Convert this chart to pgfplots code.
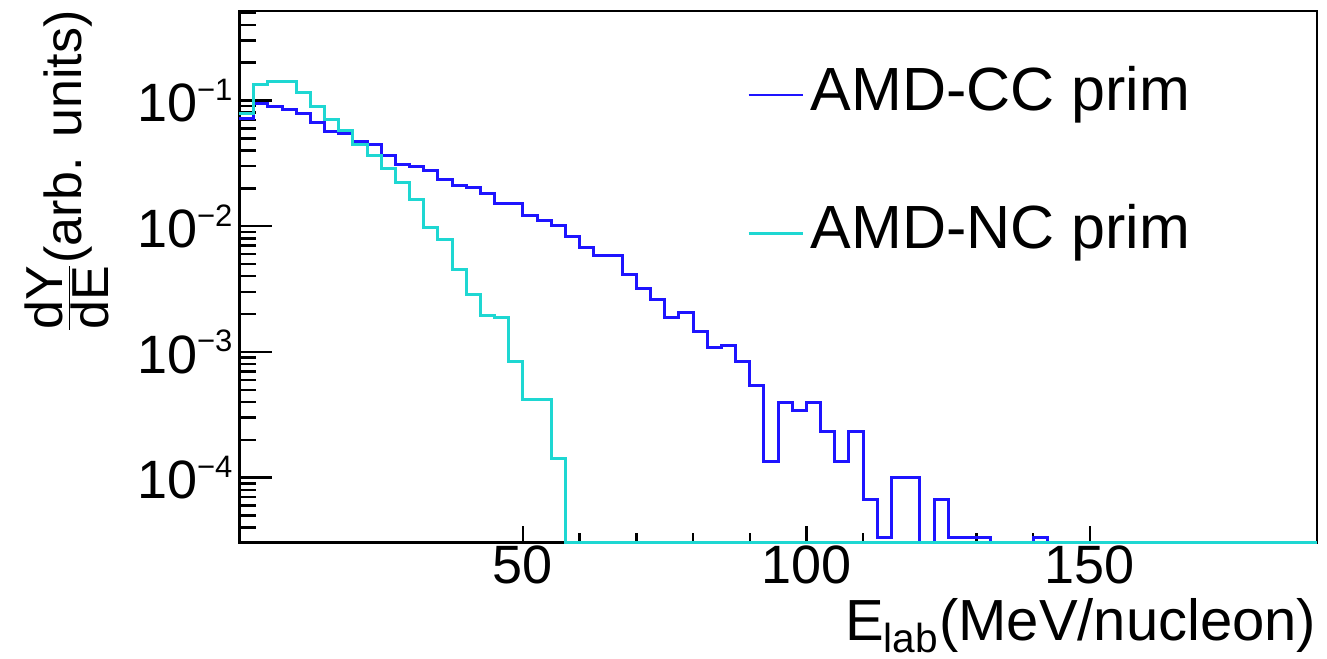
\documentclass[border=0pt]{standalone}
\usepackage{fontspec}
\setmainfont{Liberation Sans}
\usepackage{pgfplots}
\usepackage{pgfplotstable}
\pgfplotsset{compat=1.18}
\definecolor{ccblue}{RGB}{30,20,255}
\definecolor{nccyan}{RGB}{30,215,210}
\newcommand{\pw}[1]{10\raisebox{10.6pt}{\fontsize{15.5pt}{15.5pt}\selectfont −#1}}

% AMD-CC prim (left bin edges, value); bins of empty content set to ymin
\pgfplotstableread{
x y
0 0.0722
2.5 0.0950
5 0.0904
7.5 0.0851
10 0.0781
12.5 0.0671
15 0.0572
17.5 0.0548
20 0.0476
22.5 0.0448
25 0.0364
27.5 0.03125
30 0.0301
32.5 0.0275
35 0.0236
37.5 0.0211
40 0.0203
42.5 0.0183
45 0.01508
47.5 0.01508
50 0.01217
52.5 0.01120
55 0.01009
57.5 0.00825
60 0.00679
62.5 0.00587
65 0.00587
67.5 0.00413
70 0.00322
72.5 0.002635
75 0.00187
77.5 0.00205
80 0.001448
82.5 0.00108
85 0.001135
87.5 0.000836
90 0.000538
92.5 0.000134
95 0.000397
97.5 0.000345
100 0.000397
102.5 0.000232
105 0.000134
107.5 0.000232
110 0.0000665
112.5 0.0000333
115 0.0001
117.5 0.0001
120 0.0000306
122.5 0.0000665
125 0.0000333
127.5 0.0000333
130 0.0000333
132.5 0.0000306
135 0.0000306
137.5 0.0000306
140 0.0000333
142.5 0.0000306
190 0.0000306
}\cctab

% AMD-NC prim
\pgfplotstableread{
x y
0 0.0784
2.5 0.1341
5 0.1421
7.5 0.1421
10 0.1154
12.5 0.0904
15 0.0700
17.5 0.0579
20 0.0445
22.5 0.0366
25 0.0289
27.5 0.0224
30 0.01646
32.5 0.00968
35 0.00787
37.5 0.00454
40 0.00289
42.5 0.00194
45 0.001886
47.5 0.000836
50 0.000420
52.5 0.000420
55 0.0001414
57.5 0.0000306
190 0.0000306
}\nctab

\begin{document}
\begin{tikzpicture}
\begin{axis}[
  scale only axis,
  width=538.6pt, height=265.65pt,
  ymode=log,
  xmin=0, xmax=190, ymin=3.06e-5, ymax=0.515,
  clip=false,
  axis line style={line width=1.2pt},
  tick align=inside,
  xtick pos=bottom, ytick pos=left,
  xtick={50,100,150}, xticklabels={50,100,150},
  minor x tick num=4,
  major tick length=16.5pt, minor tick length=8.5pt,
  x tick style={/pgfplots/major tick length=8pt,/pgfplots/minor tick length=4.5pt},
  tick style={line width=1.2pt, black},
  ticklabel style={font=\fontsize{27pt}{30pt}\selectfont},
  xticklabel style={yshift=2pt},
  yticklabel={\pgfmathtruncatemacro\ee{round(-\tick/2.302585093)}\pw{\ee}},
  xlabel={E\textsubscript{lab}(MeV/nucleon)},
  xlabel style={at={(axis description cs:1,0)}, anchor=base east, yshift=-48.85pt, inner sep=0pt, font=\fontsize{29pt}{30pt}\selectfont},
  ylabel={\ensuremath{\frac{\mbox{dY}}{\mbox{dE}}}(arb. units)},
  ylabel style={at={([xshift=-86.4pt,yshift=0.5pt]axis description cs:0,1)}, rotate=0, anchor=east, inner sep=0pt, font=\fontsize{26pt}{28pt}\selectfont},
  legend style={draw=none, fill=none, at={(axis description cs:0.4714,0.8965)}, anchor=north west,
    font=\fontsize{30.5pt}{32pt}\selectfont, inner sep=0pt, outer sep=0pt,
    row sep=40.2pt,
    nodes={inner sep=0pt, text height=22pt, text depth=7pt},
    /tikz/every odd column/.append style={column sep=3.5pt}},
  legend cell align=left,
  legend image code/.code={\draw[#1, line width=1.2pt] (0pt,0pt) -- (27pt,0pt);},
]
\addplot[const plot, ccblue, line width=1.5pt] table[x=x,y=y] {\cctab};
\addlegendentry{AMD-CC prim}
\addplot[const plot, nccyan, line width=1.5pt] table[x=x,y=y] {\nctab};
\addlegendentry{AMD-NC prim}
\end{axis}
\pgfresetboundingbox
\path ([shift={(-119.75pt,-57.85pt)}]current axis.south west) rectangle ([shift={(5.15pt,5.5pt)}]current axis.north east);
\end{tikzpicture}
\end{document}
